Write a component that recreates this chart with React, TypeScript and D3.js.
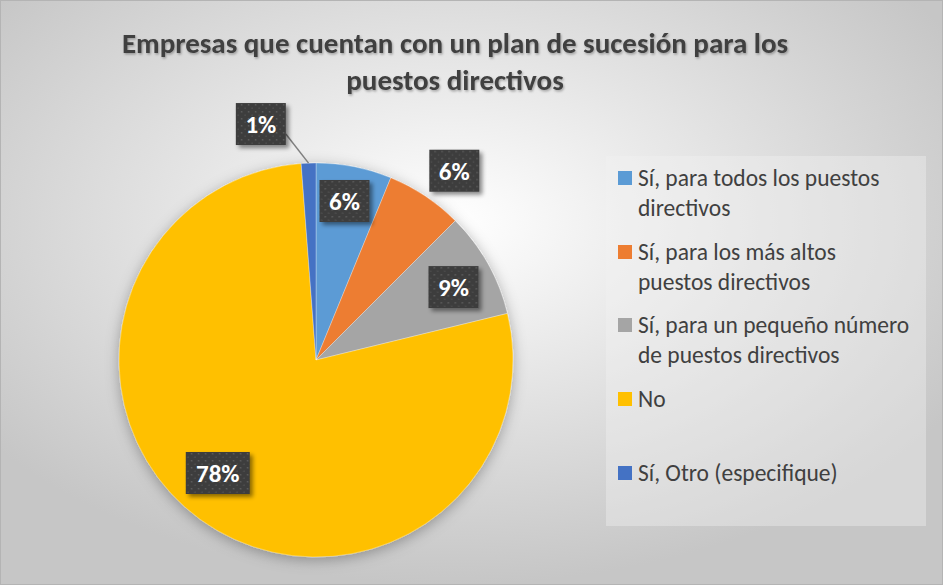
import React, { useEffect, useRef } from "react";
import * as d3 from "d3";

// chart data
const categories = [
  "Sí, para todos los puestos directivos",
  "Sí, para los más altos puestos directivos",
  "Sí, para un pequeño número de puestos directivos",
  "No",
  "Sí, Otro (especifique)",
];
const values = [6.2, 6.3, 8.7, 77.6, 1.2];
const colors = ["#5b9bd5", "#ed7d31", "#a5a5a5", "#ffc000", "#4472c4"];
const legendLines = [
  ["Sí, para todos los puestos", "directivos"],
  ["Sí, para los más altos", "puestos directivos"],
  ["Sí, para un pequeño número", "de puestos directivos"],
  ["No"],
  ["Sí, Otro (especifique)"],
];
const titleLines = [
  "Empresas que cuentan con un plan de sucesión para los",
  "puestos directivos",
];

// label placement relative to slice centroid: radius factor + angle nudge (deg)
const labelPlace = [
  { k: 0.82, da: -1 },
  { k: 1.19, da: 2.5 },
  { k: 0.79, da: 1.4 },
  { k: 0.76, da: 5 },
  { k: 1.23, da: -11 },
];

function App() {
  const ref = useRef(null);

  useEffect(() => {
    document.body.style.margin = "0";
    const W = 943;
    const H = 585;
    const font = "Carlito, Calibri, Lato, sans-serif";
    const svg = d3.select(ref.current).attr("width", W).attr("height", H);
    svg.selectAll("*").remove();

    const defs = svg.append("defs");
    const bg = defs
      .append("radialGradient")
      .attr("id", "bg")
      .attr("cx", "48%")
      .attr("cy", "38%")
      .attr("r", "62%");
    bg.append("stop").attr("offset", "0%").attr("stop-color", "#ffffff");
    bg.append("stop").attr("offset", "100%").attr("stop-color", "#c6c6c6");

    const pat = defs
      .append("pattern")
      .attr("id", "dots")
      .attr("width", 7)
      .attr("height", 7)
      .attr("patternUnits", "userSpaceOnUse");
    pat.append("rect").attr("width", 7).attr("height", 7).attr("fill", "#3d3d3d");
    pat.append("rect").attr("x", 1).attr("y", 1).attr("width", 1.5).attr("height", 1.5).attr("fill", "#5e5e5e");
    pat.append("rect").attr("x", 4.5).attr("y", 4.5).attr("width", 1.5).attr("height", 1.5).attr("fill", "#4f4f4f");

    const sh = defs.append("filter").attr("id", "shadow").attr("x", "-30%").attr("y", "-30%").attr("width", "160%").attr("height", "160%");
    sh.append("feDropShadow").attr("dx", 3).attr("dy", 3).attr("stdDeviation", 2).attr("flood-color", "#000").attr("flood-opacity", 0.45);

    const pieSh = defs.append("filter").attr("id", "pieShadow").attr("x", "-20%").attr("y", "-20%").attr("width", "140%").attr("height", "140%");
    pieSh.append("feDropShadow").attr("dx", 0).attr("dy", 3).attr("stdDeviation", 7).attr("flood-color", "#000").attr("flood-opacity", 0.3);

    const tsh = defs.append("filter").attr("id", "tshadow");
    tsh.append("feDropShadow").attr("dx", 1).attr("dy", 1.5).attr("stdDeviation", 1).attr("flood-color", "#000").attr("flood-opacity", 0.3);

    svg
      .append("rect")
      .attr("x", 0.5)
      .attr("y", 0.5)
      .attr("width", W - 1)
      .attr("height", H - 1)
      .attr("fill", "url(#bg)")
      .attr("stroke", "#b4b4b4");

    // title
    svg
      .append("g")
      .selectAll("text")
      .data(titleLines)
      .enter()
      .append("text")
      .attr("x", 455)
      .attr("y", (d, i) => 53 + i * 37)
      .attr("text-anchor", "middle")
      .attr("font-family", font)
      .attr("font-weight", "bold")
      .attr("font-size", 29)
      .attr("fill", "#404040")
      .attr("filter", "url(#tshadow)")
      .text((d) => d);

    // pie
    const cx = 316;
    const cy = 360;
    const r = 197;
    const pie = d3.pie<number>().sort(null).value((d) => d);
    const arcs = pie(values);
    const arc = d3.arc<d3.PieArcDatum<number>>().innerRadius(0).outerRadius(r);

    const g = svg.append("g").attr("transform", `translate(${cx},${cy})`);
    g.append("g")
      .attr("filter", "url(#pieShadow)")
      .selectAll("path")
      .data(arcs)
      .enter()
      .append("path")
      .attr("d", arc)
      .attr("fill", (d, i) => colors[i])
      .attr("stroke", "#ffffff")
      .attr("stroke-opacity", 0.4)
      .attr("stroke-width", 0.75);

    // data labels
    const labelPos = arcs.map((d, i) => {
      const a = (d.startAngle + d.endAngle) / 2 + (labelPlace[i].da * Math.PI) / 180;
      const rr = r * labelPlace[i].k;
      return [Math.sin(a) * rr, -Math.cos(a) * rr];
    });

    // leader line for the small slice
    const last = arcs.length - 1;
    const la = (arcs[last].startAngle + arcs[last].endAngle) / 2;
    g.append("line")
      .attr("x1", labelPos[last][0] + 25)
      .attr("y1", labelPos[last][1] + 10)
      .attr("x2", Math.sin(la) * r)
      .attr("y2", -Math.cos(la) * r)
      .attr("stroke", "#7f7f7f")
      .attr("stroke-width", 1.5);

    const labels = g
      .append("g")
      .selectAll("g")
      .data(arcs)
      .enter()
      .append("g")
      .attr("transform", (d, i) => `translate(${labelPos[i][0]},${labelPos[i][1]})`);
    const lw = (d) => (Math.round(d.data) >= 10 ? 64 : 50);
    labels
      .append("rect")
      .attr("x", (d) => -lw(d) / 2)
      .attr("y", -21)
      .attr("width", lw)
      .attr("height", 42)
      .attr("fill", "url(#dots)")
      .attr("filter", "url(#shadow)");
    labels
      .append("text")
      .attr("text-anchor", "middle")
      .attr("dy", "0.36em")
      .attr("font-family", font)
      .attr("font-weight", "bold")
      .attr("font-size", 25)
      .attr("fill", "#ffffff")
      .text((d) => `${Math.round(d.data)}%`);

    // legend
    const lg = svg.append("g");
    lg.append("rect")
      .attr("x", 606)
      .attr("y", 156)
      .attr("width", 320)
      .attr("height", 370)
      .attr("fill", "#f2f2f2")
      .attr("fill-opacity", 0.39);
    const itemY = [178, 252, 325, 399, 473];
    const items = lg
      .selectAll("g.item")
      .data(categories)
      .enter()
      .append("g")
      .attr("class", "item")
      .attr("transform", (d, i) => `translate(618,${itemY[i]})`);
    items
      .append("rect")
      .attr("x", 0)
      .attr("y", -7)
      .attr("width", 14)
      .attr("height", 14)
      .attr("fill", (d, i) => colors[i]);
    items
      .append("text")
      .attr("font-family", font)
      .attr("font-size", 23.5)
      .attr("fill", "#404040")
      .selectAll("tspan")
      .data((d, i) => legendLines[i])
      .enter()
      .append("tspan")
      .attr("x", 20)
      .attr("y", (d, j) => j * 30)
      .attr("dy", "0.35em")
      .text((d) => d);
  }, []);

  return <svg ref={ref} style={{ display: "block" }}></svg>;
}

export default App;
